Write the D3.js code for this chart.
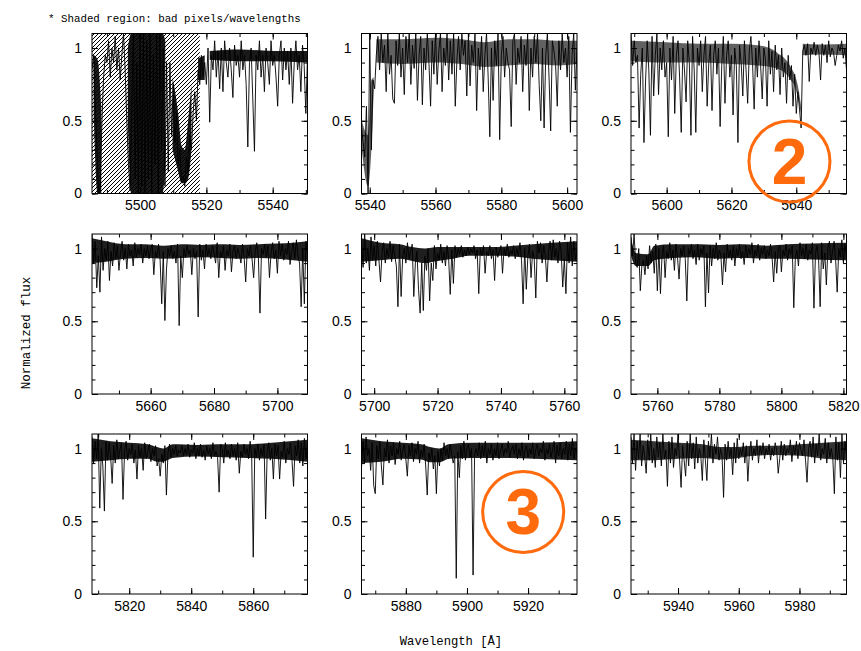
<!DOCTYPE html>
<html>
<head>
<meta charset="utf-8">
<script src="https://cdn.jsdelivr.net/npm/d3@7"></script>
<style>
  body { margin: 0; background: #fff; }
  svg { display: block; }
</style>
</head>
<body>
<svg id="chart" width="861" height="651"></svg>
<script>
// wavelength window of every panel [start, end] (Angstrom), flux sampled every 0.5 A from start
const step = 0.5;
const ranges = [
  [5485.5, 5550.5], [5537.5, 5603], [5589, 5655.5],
  [5641.5, 5709.5], [5696, 5764], [5751.5, 5821],
  [5808, 5877.5], [5865.5, 5936], [5924.5, 5995.5]
];
const tickLabels = [
  [5500, 5520, 5540], [5540, 5560, 5580, 5600], [5600, 5620, 5640],
  [5660, 5680, 5700], [5700, 5720, 5740, 5760], [5760, 5780, 5800, 5820],
  [5820, 5840, 5860], [5880, 5900, 5920], [5940, 5960, 5980]
];
const yLabels = [0, 0.5, 1];

const flux1 = [.85,.95,.6,.3,0,.05,.5,.8,.95,.9,
  1.05,.8,1.0,.9,1.08,.85,1.0,.78,.95,1.1,
  .85,.5,.2,.02,.6,1.1,.1,.9,0,1.1,
  .05,1.1,0,1.05,.1,1.1,0,.95,.2,1.1,
  0,1.1,.3,1.0,.05,.9,.15,.9,.4,.75,
  .35,.55,.2,.3,.08,.12,.05,.25,.15,.4,
  .3,.55,.7,.5,.85,.75,.95,.8,.9,.75,
  1.0,.49,.95,.85,1.05,.8,.98,.72,1.0,.7,
  1.05,.9,.8,1.0,.85,.66,1.02,.88,.95,.8,
  1.05,.85,.95,.75,.32,.9,1.0,.65,.29,.95,
  .85,1.05,.8,.95,.7,1.0,.9,.75,1.05,.88,
  .95,.8,.6,.95,1.05,.78,1.0,.85,.98,.75,
  1.0,.62,.9,1.05,.85,.95,.7,1.02,.88,.55,.95];
const flux2 = [.45,.35,.25,.6,0,1.1,.3,.78,.72,.95,
  1.08,.85,1.1,.9,1.02,.7,1.1,.82,.95,.65,
  .62,1.05,.88,1.1,.8,1.0,.68,1.08,.9,1.1,
  .75,1.02,.86,1.1,.64,.95,1.08,.61,1.0,.85,
  1.1,.9,.6,1.05,.82,1.1,.75,.98,1.1,.7,
  1.0,.88,1.1,.78,1.05,.82,1.1,.6,.92,1.08,
  .85,1.1,.95,1.05,.67,1.1,.74,1.02,.9,1.1,
  .57,1.0,.85,1.08,.7,.95,1.1,.8,.39,1.0,
  .64,1.05,.88,1.1,.37,.95,1.08,.8,1.0,.9,
  .85,.46,1.05,1.1,.75,1.0,.9,1.08,.7,1.02,
  .88,1.1,.57,1.0,.8,1.08,.9,1.1,.75,.5,
  1.0,.45,.95,1.1,.8,.43,1.05,.98,.88,.6,
  1.05,.85,1.1,.9,1.0,.8,1.08,.42,.95,1.1,.71,1.0];
const flux3 = [1.1,.88,1.05,.9,.95,.45,.82,1.0,.35,.78,
  1.05,.85,.4,1.08,.67,.95,1.1,.68,1.0,.85,
  1.05,.8,.9,.39,1.0,.78,1.08,.55,.95,1.05,
  .8,.42,1.0,.85,.63,1.05,.9,.4,1.08,.85,
  .42,1.0,.88,1.05,.7,.95,1.08,.6,.9,1.02,
  .57,.95,1.05,.82,1.0,.46,.88,1.08,.62,.95,
  1.05,.8,.95,.54,1.0,.88,.35,1.02,.9,.67,
  1.05,.85,.62,.98,1.08,.9,.58,1.0,.8,1.05,
  .88,.65,1.0,.92,.6,1.05,.82,.98,.7,1.02,
  .85,.95,.68,1.0,.8,.9,.62,.95,.78,.88,
  .6,.82,.55,.7,.58,.45,.98,1.02,.95,1.03,
  .77,1.0,.96,1.04,.95,1.02,.97,.78,1.03,.95,
  1.02,.9,1.05,.94,1.0,.97,.88,.95,1.02,.98,1.05,.93,1.0,.85];
const flux4 = [1.1,.9,1.05,.73,.95,.7,1.08,.85,1.0,.92,
  1.05,.78,.98,.88,1.04,.93,1.02,.85,.97,1.05,
  .92,1.0,.86,1.03,.95,.99,.88,1.04,.94,1.0,
  .96,1.03,.9,1.0,.95,1.02,.93,.99,1.03,.82,
  .98,.94,1.03,.92,.62,.98,.505,.86,1.0,.95,
  1.02,.93,.98,.9,1.03,.47,.95,.8,1.0,.94,
  1.02,.96,.99,.82,1.0,.93,.98,.53,1.03,.92,
  .99,.86,1.03,.95,1.0,.93,1.02,.97,.9,1.04,
  .8,.98,.94,1.02,.85,.99,.95,1.03,.84,.98,
  1.02,.93,1.0,.96,.9,1.03,.94,.77,1.0,.95,
  1.02,.93,.8,.98,1.04,.94,.556,1.0,.96,1.03,
  .94,1.02,.8,.97,1.04,.93,.99,.83,1.05,.95,
  1.03,.92,1.0,.96,1.05,.89,.98,1.04,.93,1.06,
  .95,.9,.6,1.0,.62,1.05,.97];
const flux5 = [1.05,.87,1.1,.9,1.0,.85,1.08,.92,1.02,.88,
  1.05,.92,.77,.98,1.04,.9,1.0,.94,1.05,.91,
  1.02,.95,.88,.6,1.03,.67,.95,1.0,.9,1.04,
  .93,.98,1.03,.67,.9,.98,.72,.556,.9,.574,
  .95,.85,1.0,.64,.9,.78,1.02,.86,.97,.92,
  1.03,.9,.98,.88,1.02,.93,.685,.99,.76,1.02,
  .94,1.0,.96,1.02,.94,.99,.95,1.01,.96,1.0,
  .97,1.02,.93,.99,.69,1.0,.95,1.02,.83,.98,
  .95,1.02,.93,.99,.78,1.01,.94,.98,1.02,.83,
  1.0,.95,1.03,.94,.99,.96,1.02,.93,1.0,.95,
  1.04,.92,.62,1.0,.72,.95,1.03,.8,.98,.93,
  .66,1.05,.97,1.04,.9,1.02,.95,.77,.98,1.05,
  .92,1.06,.94,1.0,.9,1.05,.98,.735,.93,.69,
  1.04,.9,1.08,.88,1.05,.92,1.0];
const flux6 = [1.08,.95,1.1,.9,.87,1.0,.71,.88,.92,.82,
  .95,.86,1.02,.9,.98,.83,1.03,.71,1.0,.69,
  .95,1.02,.8,.98,.93,1.04,.92,.99,.85,1.03,
  .94,.79,1.0,.95,1.02,.93,.64,1.0,.96,1.03,
  .93,.99,.89,1.03,.92,1.0,.96,1.02,.6,.97,
  .695,1.02,.88,1.0,.93,1.04,.92,.99,.95,.75,
  .97,.84,1.03,.94,.99,.92,1.02,.88,1.0,.95,
  1.03,.93,.98,.89,1.02,.94,1.0,.96,1.04,.9,
  .99,.95,1.03,.92,1.0,.96,1.02,.93,.99,.95,
  1.03,.94,.77,.98,.83,1.0,1.02,.84,.99,.95,
  1.03,.92,1.0,.96,1.02,.593,.94,.99,.88,1.04,
  .95,1.0,.93,1.03,.92,.99,.96,1.04,.59,.97,
  1.02,.93,.6,1.04,.86,.97,.75,1.0,1.05,.9,
  .98,1.05,.92,.7,1.0,.94,1.06,.9,1.03,.95];
const flux7 = [1.08,.9,1.05,.93,1.1,.59,1.0,.88,.57,1.05,
  .92,1.04,.95,.76,1.02,.9,1.06,.93,.99,1.04,
  .65,.98,1.05,.92,1.0,.96,1.03,.9,.99,.79,
  1.02,.94,1.0,.85,1.04,.93,.98,1.03,.91,1.0,
  .95,1.02,.88,.93,.81,.96,.9,1.02,.68,.97,
  1.03,.94,1.0,.96,1.02,.95,.99,.97,1.02,.95,
  1.0,.96,1.03,.94,.99,.97,1.04,.93,1.0,.95,
  1.03,.94,.99,.92,1.02,.96,1.0,.93,1.04,.95,
  .98,.94,.7,1.03,1.0,.9,1.04,.95,.99,.93,
  1.03,.95,1.0,.92,1.04,.83,.98,.94,1.03,.96,
  1.0,.93,1.05,.95,.253,1.0,.94,1.03,.92,1.0,
  .95,1.03,.515,.98,1.04,.92,1.0,.79,1.03,.95,
  1.02,.79,.98,.94,1.05,.9,1.0,.96,1.04,.92,
  .74,1.02,.95,1.06,.9,1.04,.88,1.07,.93,1.03];
const flux8 = [.87,1.05,.9,1.08,.95,1.0,.85,1.04,.745,.69,
  1.02,.93,1.05,.88,.75,1.0,.94,1.06,.9,1.02,
  .95,1.04,.89,1.0,.96,1.05,.92,.99,1.03,.93,
  .81,1.02,.95,1.04,.91,1.0,.96,1.05,.9,.99,
  .94,1.03,.88,.68,.97,.92,1.0,.86,.95,.69,
  .98,.88,1.0,.92,1.04,.95,1.0,.93,1.03,.96,
  .9,.95,.108,.98,.8,1.02,.93,1.05,.92,1.0,
  1.03,.94,1.0,.13,.96,1.0,.95,1.04,.93,1.02,
  .95,1.05,.9,1.0,.96,1.03,.92,1.0,.95,1.04,
  .93,.99,1.03,.95,1.0,.97,1.05,.94,.99,1.02,
  .96,1.03,.93,1.0,.95,1.04,.92,.99,1.02,.94,
  1.0,.96,1.04,.93,.99,1.03,.95,1.0,.97,1.05,
  .92,1.0,.96,1.03,.94,.99,1.05,.9,1.02,.95,
  1.04,.93,1.0,.96,1.05,.92,1.03,.95,1.07,.93,1.0,.96];
const flux9 = [1.08,.9,1.1,.85,1.05,.93,1.1,.88,1.02,.95,
  .83,1.06,.92,1.1,.9,1.0,.87,1.08,.94,1.04,
  .88,1.1,.93,.99,.74,1.05,.9,1.08,.87,1.0,
  .95,1.1,.92,.733,1.02,.92,.81,1.05,.88,1.1,
  .93,1.04,.86,1.08,.9,1.0,.95,.78,1.06,.92,
  .78,1.05,.94,1.1,.9,1.03,.96,1.08,.92,1.0,
  .95,.664,1.03,.92,1.05,.94,1.0,.82,1.04,.9,
  1.07,.93,1.0,.95,1.04,.9,1.02,.775,.97,1.05,
  .92,1.0,.95,1.06,.9,1.02,.96,1.04,.93,1.0,
  .96,1.03,.92,1.0,.95,1.04,.99,.83,.93,1.05,
  .92,1.03,.95,1.0,.97,1.06,.91,1.02,.96,1.05,
  .93,1.04,.99,.95,1.06,.92,.768,1.0,1.05,.94,
  1.08,.9,1.03,.95,1.1,.92,1.0,.96,1.07,.9,
  1.04,.94,1.0,.93,.69,1.08,.92,1.04,.8,1.1,.9,1.05,.95];

const fluxes = [flux1, flux2, flux3, flux4, flux5, flux6, flux7, flux8, flux9];

// core of the unresolved noise, where plotted pixels merge: [wavelength, low, high], null = gap
const band1 = [[5486,.55,.95],[5487.2,0,.92],[5488.3,0,.6],null,
  [5496.3,.5,1.0],[5497.3,0,1.1],[5506.8,0,1.1],[5507.6,.2,1.05],null,
  [5509.8,.3,.8],[5511.5,.15,.55],[5512.5,.07,.33],[5513.5,.07,.3],[5514.5,.1,.5],[5515.5,.3,.75],null,
  [5517.5,.78,.93],[5519.5,.78,.95],null,
  [5521,.92,.98],[5530,.91,.99],[5540,.91,.98],[5550.5,.9,.98]];
const band2 = [[5537.6,.3,.5],[5539.5,.05,.4],[5540.5,.3,.78],[5541.2,.7,.8],null,
  [5542,.9,1.06],[5550,.89,1.06],[5560,.9,1.07],[5568,.89,1.06],[5575,.87,1.04],
  [5582,.88,1.06],[5590,.89,1.06],[5597,.88,1.05],[5603,.89,1.05]];
const band3 = [[5589,.91,1.05],[5600,.9,1.04],[5610,.9,1.03],[5620,.89,1.03],[5628,.88,1.02],
  [5634,.86,.97],[5638,.79,.88],[5640.5,.66,.74],[5641.6,.52,.58],null,
  [5642,.95,1.03],[5648,.955,1.025],[5655.5,.95,1.03]];
const band4 = [[5641.5,.9,1.07],[5646,.91,1.05],[5652,.93,1.03],[5658,.935,1.03],[5664,.93,1.02],
  [5670,.935,1.03],[5676,.94,1.025],[5682,.935,1.03],[5688,.93,1.025],[5694,.935,1.03],
  [5700,.93,1.035],[5705,.92,1.04],[5709.5,.91,1.05]];
const band5 = [[5696,.91,1.07],[5702,.92,1.04],[5708,.93,1.03],[5712,.915,1.01],[5716,.9,1.0],
  [5720,.915,1.01],[5725,.93,1.01],[5730,.95,1.01],[5738,.95,1.01],[5744,.945,1.02],
  [5750,.93,1.03],[5756,.92,1.04],[5764,.91,1.05]];
const band6 = [[5751.5,.95,1.07],[5753,.88,.97],[5757,.88,.96],[5759,.92,1.02],[5765,.935,1.03],
  [5772,.94,1.03],[5780,.93,1.025],[5788,.935,1.03],[5795,.93,1.02],[5802,.93,1.03],
  [5810,.925,1.035],[5821,.92,1.04]];
const band7 = [[5808,.91,1.07],[5814,.92,1.05],[5820,.93,1.04],[5826,.93,1.03],[5829,.91,1.01],
  [5831,.91,1.0],[5834,.935,1.03],[5842,.945,1.025],[5850,.94,1.03],[5858,.935,1.03],
  [5866,.93,1.04],[5877.5,.91,1.06]];
const band8 = [[5865.5,.9,1.07],[5872,.91,1.05],[5879,.93,1.04],[5885,.925,1.03],[5888,.905,1.01],
  [5891,.905,1.0],[5894,.93,1.03],[5902,.935,1.04],[5912,.935,1.04],[5922,.93,1.04],[5936,.92,1.05]];
const band9 = [[5924.5,.92,1.06],[5932,.92,1.05],[5940,.93,1.04],[5948,.935,1.03],[5954,.925,1.01],
  [5958,.93,1.01],[5965,.95,1.02],[5972,.955,1.02],[5980,.95,1.03],[5988,.93,1.04],[5995.5,.92,1.05]];

const bands = [band1, band2, band3, band4, band5, band6, band7, band8, band9];
const bandAlpha = [0.9, 0.62, 0.62, 0.88, 0.88, 0.88, 0.88, 0.88, 0.8];

// masked (bad) wavelength interval, panel index
const badRegions = [{ panel: 0, from: 5485.5, to: 5518 }];

// orange circled markers, in panel data coords
const markers = [
  { panel: 2, wl: 5637.9, f: 0.22, label: "2" },
  { panel: 7, wl: 5918.4, f: 0.564, label: "3" }
];

const colX = [92, 361.5, 631];
const rowY = [33.5, 234, 434];
const W = 215.5, H = 160;
const orange = "#ff6a0d";
const tickFont = "'Liberation Sans', Arial, Helvetica, sans-serif";
const labelFont = "'Liberation Mono', 'Courier New', monospace";

const svg = d3.select("#chart");

const defs = svg.append("defs");
defs.append("pattern")
  .attr("id", "hatch")
  .attr("patternUnits", "userSpaceOnUse")
  .attr("width", 4).attr("height", 4)
  .append("path")
  .attr("d", "M-1,1 l2,-2 M0,4 l4,-4 M3,5 l2,-2")
  .attr("stroke", "#000")
  .attr("stroke-width", 1);

ranges.forEach((dom, k) => {
  const x0 = colX[k % 3], y0 = rowY[Math.floor(k / 3)];
  const x = d3.scaleLinear().domain(dom).range([x0, x0 + W]);
  const y = d3.scaleLinear().domain([0, 1.1]).range([y0 + H, y0]);
  const g = svg.append("g");

  defs.append("clipPath").attr("id", "clip" + k)
    .append("rect").attr("x", x0).attr("y", y0).attr("width", W).attr("height", H);

  badRegions.filter(b => b.panel === k).forEach(b => {
    g.append("rect")
      .attr("x", x(b.from)).attr("y", y0)
      .attr("width", x(b.to) - x(b.from)).attr("height", H)
      .attr("fill", "url(#hatch)")
      .attr("clip-path", `url(#clip${k})`);
  });

  g.append("path")
    .attr("d", d3.area()
      .defined(d => d)
      .curve(d3.curveMonotoneX)
      .x(d => x(d[0])).y0(d => y(d[1])).y1(d => y(d[2]))(bands[k]))
    .attr("fill", "#000")
    .attr("fill-opacity", bandAlpha[k])
    .attr("clip-path", `url(#clip${k})`);

  const pts = fluxes[k].map((f, i) => [dom[0] + i * step, f]);
  g.append("path")
    .attr("d", d3.line().x(d => x(d[0])).y(d => y(d[1]))(pts))
    .attr("fill", "none")
    .attr("stroke", "#000")
    .attr("stroke-width", 0.9)
    .attr("clip-path", `url(#clip${k})`);

  const minorX = d3.range(Math.ceil(dom[0] / 10) * 10, dom[1], 10);
  const minorY = d3.range(0, 11).map(d => d / 10);
  const strip = s => s.call(a => a.select(".domain").remove());

  // bottom
  g.append("g").attr("transform", `translate(0,${y0 + H})`)
    .call(d3.axisBottom(x).tickValues(minorX).tickSize(-3.5).tickFormat("")).call(strip);
  g.append("g").attr("transform", `translate(0,${y0 + H})`)
    .call(d3.axisBottom(x).tickValues(tickLabels[k]).tickSize(-6).tickPadding(7).tickFormat(d3.format("d")))
    .call(strip)
    .attr("font-family", tickFont).attr("font-size", 14);
  // top
  g.append("g").attr("transform", `translate(0,${y0})`)
    .call(d3.axisTop(x).tickValues(minorX).tickSize(-3.5).tickFormat("")).call(strip);
  g.append("g").attr("transform", `translate(0,${y0})`)
    .call(d3.axisTop(x).tickValues(tickLabels[k]).tickSize(-6).tickFormat("")).call(strip);
  // left
  g.append("g").attr("transform", `translate(${x0},0)`)
    .call(d3.axisLeft(y).tickValues(minorY).tickSize(-3.5).tickFormat("")).call(strip);
  g.append("g").attr("transform", `translate(${x0},0)`)
    .call(d3.axisLeft(y).tickValues(yLabels).tickSize(-6).tickPadding(10).tickFormat(d => d))
    .call(strip)
    .attr("font-family", tickFont).attr("font-size", 14);
  // right
  g.append("g").attr("transform", `translate(${x0 + W},0)`)
    .call(d3.axisRight(y).tickValues(minorY).tickSize(-3.5).tickFormat("")).call(strip);
  g.append("g").attr("transform", `translate(${x0 + W},0)`)
    .call(d3.axisRight(y).tickValues(yLabels).tickSize(-6).tickFormat("")).call(strip);

  g.append("rect")
    .attr("x", x0).attr("y", y0).attr("width", W).attr("height", H)
    .attr("fill", "none").attr("stroke", "#000").attr("stroke-width", 1);

  markers.filter(m => m.panel === k).forEach(m => {
    g.append("circle")
      .attr("cx", x(m.wl)).attr("cy", y(m.f)).attr("r", 40.5)
      .attr("fill", "none").attr("stroke", orange).attr("stroke-width", 3);
    g.append("text")
      .attr("x", x(m.wl)).attr("y", y(m.f))
      .attr("dy", "0.35em")
      .attr("text-anchor", "middle")
      .attr("font-family", tickFont)
      .attr("font-weight", "bold")
      .attr("font-size", 64)
      .attr("fill", orange)
      .text(m.label);
  });
});

svg.append("text")
  .attr("x", 48).attr("y", 21.5)
  .attr("font-family", labelFont).attr("font-size", 10.8)
  .text("* Shaded region: bad pixels/wavelengths");

svg.append("text")
  .attr("x", 451).attr("y", 645)
  .attr("text-anchor", "middle")
  .attr("font-family", labelFont).attr("font-size", 12.2)
  .text("Wavelength [Å]");

svg.append("text")
  .attr("transform", "translate(30,333) rotate(-90)")
  .attr("text-anchor", "middle")
  .attr("font-family", labelFont).attr("font-size", 12.5)
  .text("Normalized flux");
</script>
</body>
</html>
